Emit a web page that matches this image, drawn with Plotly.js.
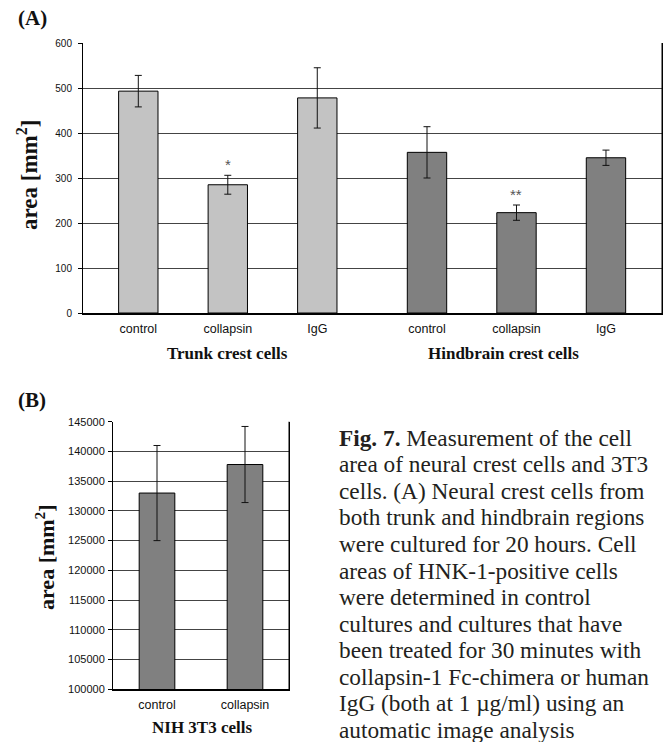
<!DOCTYPE html>
<html>
<head>
<meta charset="utf-8">
<script src="https://cdn.plot.ly/plotly-3.0.1.min.js"></script>
<style>
html,body{margin:0;padding:0;background:#fff;}
#chart{width:664px;height:742px;}
</style>
</head>
<body>
<div id="chart"></div>
<script>
// ---- data ----
const catLabels = ['control', 'collapsin', 'IgG'];
const trunkVals = [493, 285, 478];
const trunkErr = [35, 21, 67];
const hindVals = [357, 223, 345];
const hindErr = [57, 17, 17];
const groupLabels = ['Trunk crest cells', 'Hindbrain crest cells'];
const sigMarks = ['', '*', ''];
const sigMarksHind = ['', '**', ''];
const aTicks = [0, 100, 200, 300, 400, 500, 600];

const nihCats = ['control', 'collapsin'];
const nihVals = [133000, 137800];
const nihErr = [8000, 6400];
const nihGroup = 'NIH 3T3 cells';
const bTicks = [100000, 105000, 110000, 115000, 120000, 125000, 130000, 135000, 140000, 145000];

const captionLines = [
  '<b>Fig. 7.</b> Measurement of the cell',
  'area of neural crest cells and 3T3',
  'cells. (A) Neural crest cells from',
  'both trunk and hindbrain regions',
  'were cultured for 20 hours. Cell',
  'areas of HNK-1-positive cells',
  'were determined in control',
  'cultures and cultures that have',
  'been treated for 30 minutes with',
  'collapsin-1 Fc-chimera or human',
  'IgG (both at 1 \u00b5g/ml) using an',
  'automatic image analysis'
];

// ---- layout helpers ----
const W = 664, H = 742;
const px = v => v / W;
const py = v => 1 - v / H;
const gap = 1.226;
const trunkX = catLabels.map((c, i) => i);
const hindX = catLabels.map((c, i) => 2 + gap + i);

const serif = "'Liberation Serif', 'Times New Roman', serif";
const sans = "'Liberation Sans', Arial, sans-serif";

const barStyle = (col) => ({color: col, line: {color: '#000', width: 1}});
const errStyle = (arr) => ({type: 'data', array: arr, visible: true, color: '#111', thickness: 1, width: 3.5});

const traces = [
  {type: 'bar', x: trunkX, y: trunkVals, width: 0.44, marker: barStyle('#c3c3c3'),
   error_y: errStyle(trunkErr), xaxis: 'x', yaxis: 'y', hoverinfo: 'none'},
  {type: 'bar', x: hindX, y: hindVals, width: 0.44, marker: barStyle('#808080'),
   error_y: errStyle(hindErr), xaxis: 'x', yaxis: 'y', hoverinfo: 'none'},
  {type: 'bar', x: nihCats, y: nihVals, width: 0.405, marker: barStyle('#808080'),
   error_y: errStyle(nihErr), xaxis: 'x2', yaxis: 'y2', hoverinfo: 'none', base: 0}
];

const annotations = [];
// panel labels
annotations.push({xref: 'paper', yref: 'paper', x: px(16), y: py(18), xanchor: 'left', yanchor: 'middle',
  text: '<b>(A)</b>', showarrow: false, font: {family: serif, size: 21, color: '#111'}});
annotations.push({xref: 'paper', yref: 'paper', x: px(16), y: py(400), xanchor: 'left', yanchor: 'middle',
  text: '<b>(B)</b>', showarrow: false, font: {family: serif, size: 21, color: '#111'}});
// y titles
annotations.push({xref: 'paper', yref: 'paper', x: px(27), y: py(175), xanchor: 'center', yanchor: 'middle',
  text: '<b>area [mm<sup>2</sup>]</b>', textangle: -90, showarrow: false, font: {family: serif, size: 23, color: '#111'}});
annotations.push({xref: 'paper', yref: 'paper', x: px(45), y: py(557), xanchor: 'center', yanchor: 'middle',
  text: '<b>area [mm<sup>2</sup>]</b>', textangle: -90, showarrow: false, font: {family: serif, size: 22, color: '#111'}});
// group labels
annotations.push({xref: 'x', yref: 'paper', x: trunkX[1], y: py(353), xanchor: 'center', yanchor: 'middle',
  text: '<b>' + groupLabels[0] + '</b>', showarrow: false, font: {family: serif, size: 17, color: '#111'}});
annotations.push({xref: 'x', yref: 'paper', x: hindX[1] - 0.15, y: py(353), xanchor: 'center', yanchor: 'middle',
  text: '<b>' + groupLabels[1] + '</b>', showarrow: false, font: {family: serif, size: 17, color: '#111'}});
annotations.push({xref: 'paper', yref: 'paper', x: px(202), y: py(727), xanchor: 'center', yanchor: 'middle',
  text: '<b>' + nihGroup + '</b>', showarrow: false, font: {family: serif, size: 17, color: '#111'}});
// significance marks
sigMarks.forEach((m, i) => {
  if (m) annotations.push({xref: 'x', yref: 'y', x: trunkX[i], y: trunkVals[i] + trunkErr[i], yanchor: 'bottom',
    yshift: 0, text: m, showarrow: false, font: {family: sans, size: 15, color: '#555'}});
});
sigMarksHind.forEach((m, i) => {
  if (m) annotations.push({xref: 'x', yref: 'y', x: hindX[i], y: hindVals[i] + hindErr[i], yanchor: 'bottom',
    yshift: 0, text: m, showarrow: false, font: {family: sans, size: 15, color: '#555'}});
});
// caption
captionLines.forEach((t, i) => {
  annotations.push({xref: 'paper', yref: 'paper', x: px(337), y: py(437.7 + i * 26.57), xanchor: 'left', yanchor: 'middle',
    text: t, showarrow: false, font: {family: serif, size: 23.3, color: '#231f20'}});
});

const layout = {
  width: W, height: H,
  margin: {l: 0, r: 0, t: 0, b: 0},
  paper_bgcolor: '#fff', plot_bgcolor: '#fff',
  showlegend: false,
  font: {family: sans, color: '#111'},
  xaxis: {
    domain: [px(83), px(662)], range: [-0.618, hindX[2] + 0.626],
    tickvals: trunkX.concat(hindX), ticktext: catLabels.concat(catLabels),
    ticks: '', showgrid: false, zeroline: false,
    showline: true, linecolor: '#000', linewidth: 2, mirror: false,
    tickfont: {family: sans, size: 12.5, color: '#111'}, ticklabelstandoff: 3,
    anchor: 'y', fixedrange: true
  },
  yaxis: {
    domain: [py(313), py(43)], range: [0, 600],
    tickvals: aTicks, ticks: 'outside', ticklen: 4, tickcolor: '#000',
    showgrid: true, gridcolor: '#444', gridwidth: 1, zeroline: false,
    showline: true, linecolor: '#000', linewidth: 1, mirror: true,
    tickfont: {family: sans, size: 10, color: '#111'}, ticklabelstandoff: 4,
    anchor: 'x', fixedrange: true
  },
  xaxis2: {
    domain: [px(113), px(289)], range: [-0.5, 1.5], type: 'category',
    ticks: '', showgrid: false, zeroline: false,
    showline: true, linecolor: '#000', linewidth: 2,
    tickfont: {family: sans, size: 12.5, color: '#111'}, ticklabelstandoff: 3,
    anchor: 'y2', fixedrange: true
  },
  yaxis2: {
    domain: [py(689.3), py(421.7)], range: [100000, 145000],
    tickvals: bTicks, tickformat: 'd', ticks: 'outside', ticklen: 4, tickcolor: '#000',
    showgrid: true, gridcolor: '#444', gridwidth: 1, zeroline: false,
    showline: true, linecolor: '#000', linewidth: 1, mirror: true,
    tickfont: {family: sans, size: 11, color: '#111'}, ticklabelstandoff: 1,
    anchor: 'x2', fixedrange: true
  },
  shapes: [
    {type: 'line', xref: 'x domain', yref: 'y domain', x0: 1, x1: 1, y0: 0, y1: 1, line: {color: '#000', width: 1}},
    {type: 'line', xref: 'x2 domain', yref: 'y2 domain', x0: 1, x1: 1, y0: 0, y1: 1, line: {color: '#000', width: 1}}
  ],
  annotations: annotations
};

Plotly.newPlot('chart', traces, layout, {displayModeBar: false, staticPlot: true});
</script>
</body>
</html>
